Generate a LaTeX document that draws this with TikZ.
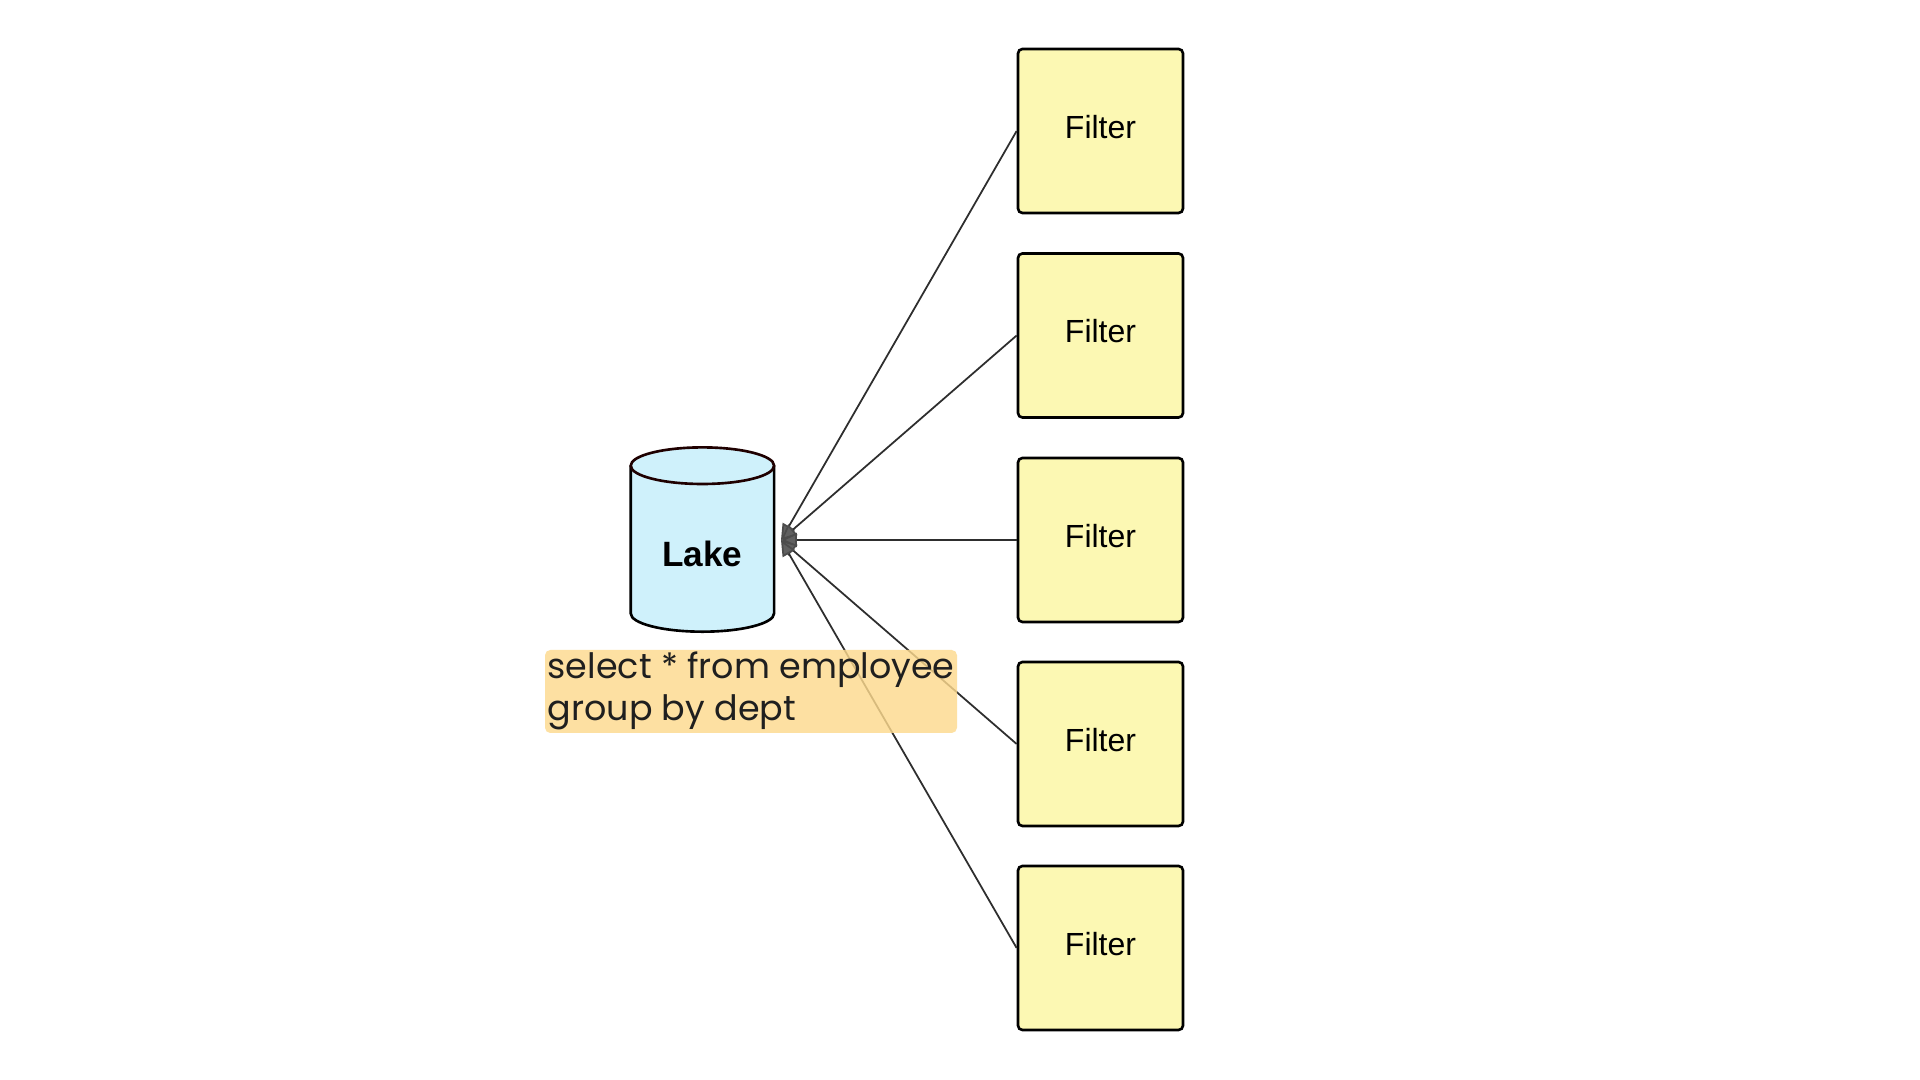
\documentclass[tikz,border=0pt]{standalone}
\usepackage{fontspec}
\setmainfont{Liberation Sans}
\newfontfamily\queryfont{Poppins}
\usetikzlibrary{arrows.meta}
\definecolor{filterfill}{HTML}{FCF8B3}
\definecolor{lakefill}{HTML}{CFF1FB}
\definecolor{hlfill}{HTML}{FDDA8E}
\definecolor{linecol}{HTML}{2E2E2E}
\definecolor{querytext}{HTML}{1F1F1F}
\begin{document}
\begin{tikzpicture}[x=0.01cm,y=-0.01cm,
  filterbox/.style={draw=black, line width=0.75pt, fill=filterfill, rounded corners=1.3pt,
    minimum width=165*0.2845pt, minimum height=164*0.2845pt, inner sep=0pt,
    font=\fontsize{9.1}{11}\selectfont},
  filterlabel/.style={font=\fontsize{9.1}{11}\selectfont, inner sep=0pt},
  feed/.style={draw=linecol, line width=0.5pt,
    -{Triangle[length=4.5pt,width=4pt,fill=gray!75!black,color=gray!60!black]}},
  cylline/.style={line width=0.75pt, draw=black},
  querystyle/.style={font=\queryfont\fontsize{9.93}{12}\selectfont, text=querytext,
    inner sep=0pt, anchor=base west}]
  % canvas
  \useasboundingbox (0,0) rectangle (1920,1080);
  \fill[white] (0,0) rectangle (1920,1080);

  % the lake cylinder
  \fill[lakefill] (630.7,465.7) -- (630.7,613.4) arc[start angle=180,end angle=360,x radius=71.7,y radius=-18.3]
    -- (774.1,465.7) -- cycle;
  \fill[lakefill] (702.4,465.7) ellipse[x radius=71.7,y radius=18.3];
  \draw[cylline] (630.7,465.7) -- (630.7,613.4) arc[start angle=180,end angle=360,x radius=71.7,y radius=-18.3]
    -- (774.1,465.7);
  \draw[cylline, draw=black!80!red!60!black] (702.4,465.7) ellipse[x radius=71.7,y radius=18.3];
  \node[font=\bfseries\fontsize{10}{12}\selectfont, inner sep=0pt] (lake) at (702.4,554) {Lake};
  \coordinate (lakeport) at (781,540);

  % filter stages
  \foreach \n/\y in {f1/131,f2/335.5,f3/540,f4/744,f5/948} {
    \node[filterbox] (\n) at (1100.5,\y) {};
    \node[filterlabel] (\n-label) at ([yshift=4*0.2845pt]\n.center) {Filter};
  }

  % feeds from each filter into the lake
  \foreach \f in {f1,f2,f3,f4,f5}
    \draw[feed] (\f.west) -- (lakeport);

  % query annotation
  \fill[hlfill, opacity=0.82, rounded corners=1.5pt] (545,650) rectangle (957,733);
  \node[querystyle] (q1) at (547,679) {select * from employee};
  \node[querystyle] (q2) at (547,721) {group by dept};
\end{tikzpicture}
\end{document}
